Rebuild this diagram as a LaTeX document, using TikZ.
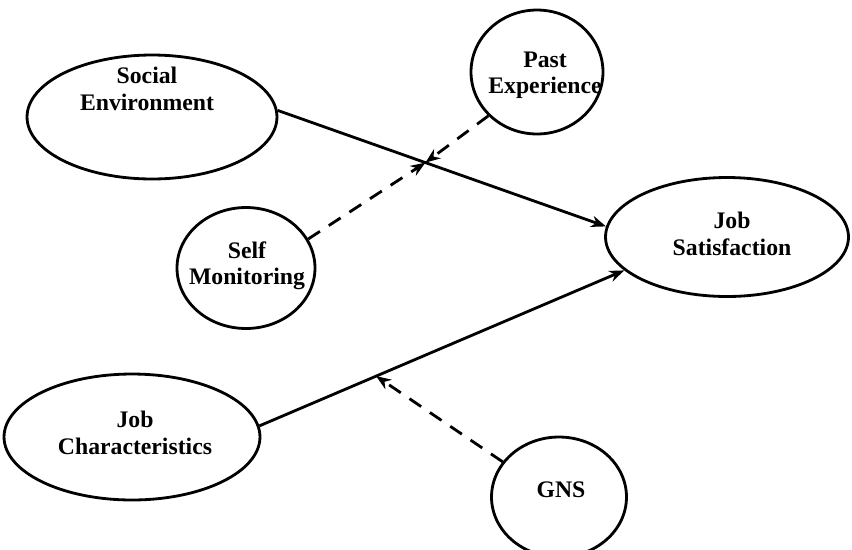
\documentclass[tikz,border=0pt]{standalone}
\usepackage{fontspec}
\setmainfont{Liberation Serif}
\usetikzlibrary{arrows.meta,shapes.geometric}
\tikzset{>={Stealth[length=8.5pt,width=6.5pt]}}
\tikzset{
  var/.style={draw,ellipse,line width=1.6pt,inner sep=0pt},
  lbl/.style={align=center,inner sep=0pt,
              font=\fontsize{13.5}{15}\selectfont\bfseries},
  effect/.style={line width=1.6pt,->},
  moder/.style={line width=1.6pt,->,dash pattern=on 8pt off 6pt}
}

\begin{document}
\begin{tikzpicture}[x=0.02cm,y=-0.02cm]
\useasboundingbox (0,0) rectangle (852,549);

% constructs
\node[var,minimum width=5cm,minimum height=2.48cm] (se) at (152,117) {};
\node[var,minimum width=2.64cm,minimum height=2.48cm] (pe) at (537,72) {};
\node[var,minimum width=2.76cm,minimum height=2.42cm] (sm) at (246,268) {};
\node[var,minimum width=4.86cm,minimum height=2.38cm] (js) at (727,237) {};
\node[var,minimum width=5.12cm,minimum height=2.52cm] (jc) at (132,437) {};
\node[var,minimum width=2.7cm,minimum height=2.4cm] (gns) at (559,497) {};

\node[lbl] (se-t) at (147,89) {Social\\Environment};
\node[lbl] (pe-t) at (545,75) {Past\\Experience};
\node[lbl] (sm-t) at (247,266) {Self\\Monitoring};
\node[lbl] (js-t) at (732,234) {Job\\Satisfaction};
\node[lbl] (jc-t) at (135,433) {Job\\Characteristics};
\node[lbl] (gns-t) at (561,490) {GNS};

% main effects
\draw[effect] (se.3) -- (js.175) coordinate[pos=0.45] (m1);
\draw[effect] (jc.5) -- (js.198) coordinate[pos=0.32] (m2);

% moderators
\draw[moder] (pe.222) -- (m1);
\draw[moder] (sm.25) -- (m1);
\draw[moder] (gns.148) -- (m2);
\end{tikzpicture}
\end{document}
